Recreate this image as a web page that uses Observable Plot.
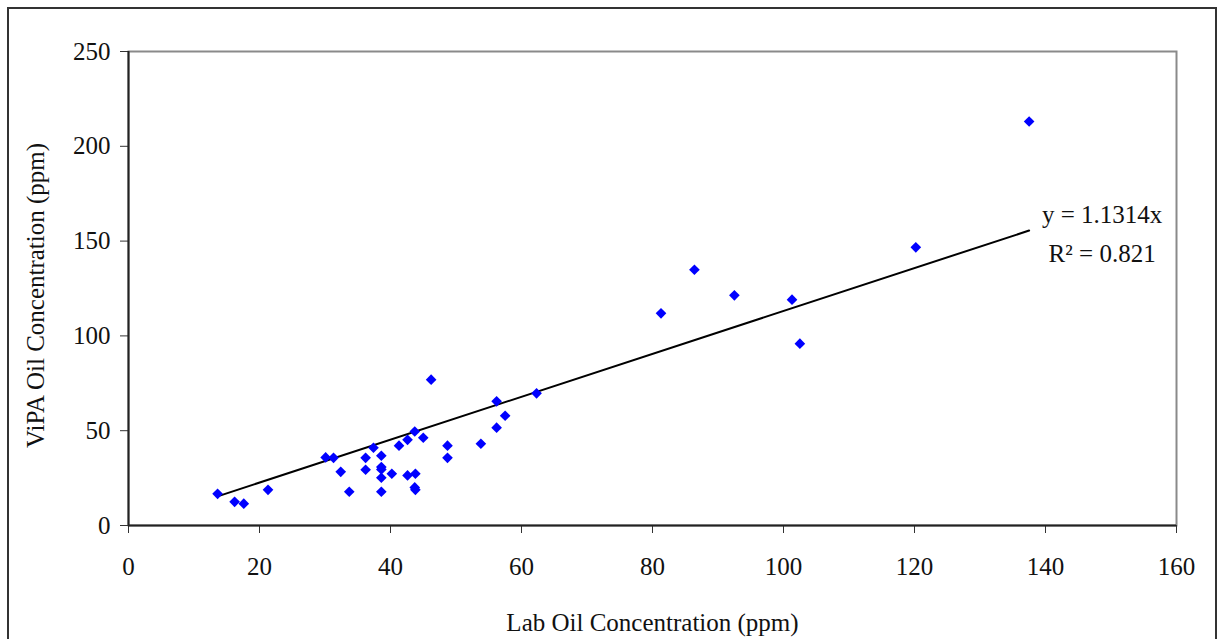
<!DOCTYPE html>
<html>
<head>
<meta charset="utf-8">
<script src="https://cdn.jsdelivr.net/npm/d3@7"></script>
<script src="https://cdn.jsdelivr.net/npm/@observablehq/plot@0.6"></script>
<style>
  html, body { margin: 0; padding: 0; background: #fff; overflow: hidden; }
  #wrap { position: relative; width: 1217px; height: 639px; }
  #border { position: absolute; left: 7px; top: 7px; width: 1210px; height: 700px; border: 2px solid #333; box-sizing: border-box; pointer-events: none; }
  #chart svg { display: block; }
</style>
</head>
<body>
<div id="wrap">
  <div id="chart"></div>
  <div id="border"></div>
</div>
<script>
// Lab oil concentration (ppm) vs ViPA oil concentration (ppm)
const labOil = [13.6, 16.2, 17.6, 21.3, 30.1, 31.3, 32.4, 33.7, 36.2, 36.2,
                37.4, 38.6, 38.6, 38.6, 38.6, 38.6, 40.2, 41.3, 42.6, 42.6,
                43.7, 43.8, 43.7, 43.8, 45.0, 46.2, 48.7, 48.7, 53.8, 56.2,
                56.2, 57.5, 62.3, 81.3, 86.4, 92.5, 101.3, 102.5, 120.2, 137.5];
const vipaOil = [16.7, 12.5, 11.5, 18.8, 35.9, 35.7, 28.3, 17.8, 35.7, 29.4,
                 41.0, 36.8, 30.8, 29.6, 25.2, 17.8, 27.3, 42.1, 45.2, 26.4,
                 49.6, 27.3, 20.1, 18.8, 46.3, 76.9, 42.1, 35.7, 43.1, 65.5,
                 51.6, 57.9, 69.7, 111.9, 134.9, 121.4, 119.1, 95.9, 146.7, 213.1];
const slope = 1.1314;
const eqText = "y = 1.1314x";
const r2Text = "R² = 0.821";
const xTicks = [0, 20, 40, 60, 80, 100, 120, 140, 160];
const yTicks = [0, 50, 100, 150, 200, 250];
const xTitle = "Lab Oil Concentration (ppm)";
const yTitle = "ViPA Oil Concentration (ppm)";

const points = labOil.map((x, i) => ({x, y: vipaOil[i]}));
const [xmin, xmax] = d3.extent(labOil);
const trend = [xmin, xmax].map(x => ({x, y: slope * x}));
const trendEnd = [trend[1]];

const font = "'Liberation Serif', 'Times New Roman', Times, serif";

const chart = Plot.plot({
  width: 1217,
  height: 639,
  marginLeft: 128,
  marginRight: 41,
  marginTop: 51,
  marginBottom: 114,
  style: {fontFamily: font, fontSize: "25px", background: "white", color: "#111"},
  x: {domain: [0, 160]},
  y: {domain: [0, 250]},
  marks: [
    Plot.frame({stroke: "#8a8a8a", strokeWidth: 2}),
    Plot.axisX({ticks: xTicks, tickSize: 8, tickPadding: 24, label: null, fontSize: 25, stroke: "#333"}),
    Plot.axisY({ticks: yTicks, tickSize: 8, tickPadding: 10, label: null, fontSize: 25, stroke: "#333"}),
    Plot.ruleX([0], {stroke: "#222", strokeWidth: 2}),
    Plot.ruleY([0], {stroke: "#222", strokeWidth: 2}),
    Plot.line(trend, {x: "x", y: "y", stroke: "#000", strokeWidth: 2}),
    Plot.dot(points, {x: "x", y: "y", symbol: "diamond2", r: 4.8, fill: "#0000ff", stroke: "none"}),
    Plot.text(trendEnd, {x: "x", y: "y", text: () => eqText, dx: 73, dy: -8, lineAnchor: "bottom", textAnchor: "middle", fontSize: 25, fill: "#111"}),
    Plot.text(trendEnd, {x: "x", y: "y", text: () => r2Text, dx: 73, dy: 31, lineAnchor: "bottom", textAnchor: "middle", fontSize: 25, fill: "#111"}),
    Plot.text([xTitle], {frameAnchor: "bottom", dy: 105, lineAnchor: "bottom", textAnchor: "middle", fontSize: 25, fill: "#111"}),
    Plot.text([yTitle], {frameAnchor: "left", rotate: -90, dx: -85, dy: 7, lineAnchor: "bottom", textAnchor: "middle", fontSize: 25, fill: "#111"})
  ]
});
document.getElementById("chart").appendChild(chart);
</script>
</body>
</html>
